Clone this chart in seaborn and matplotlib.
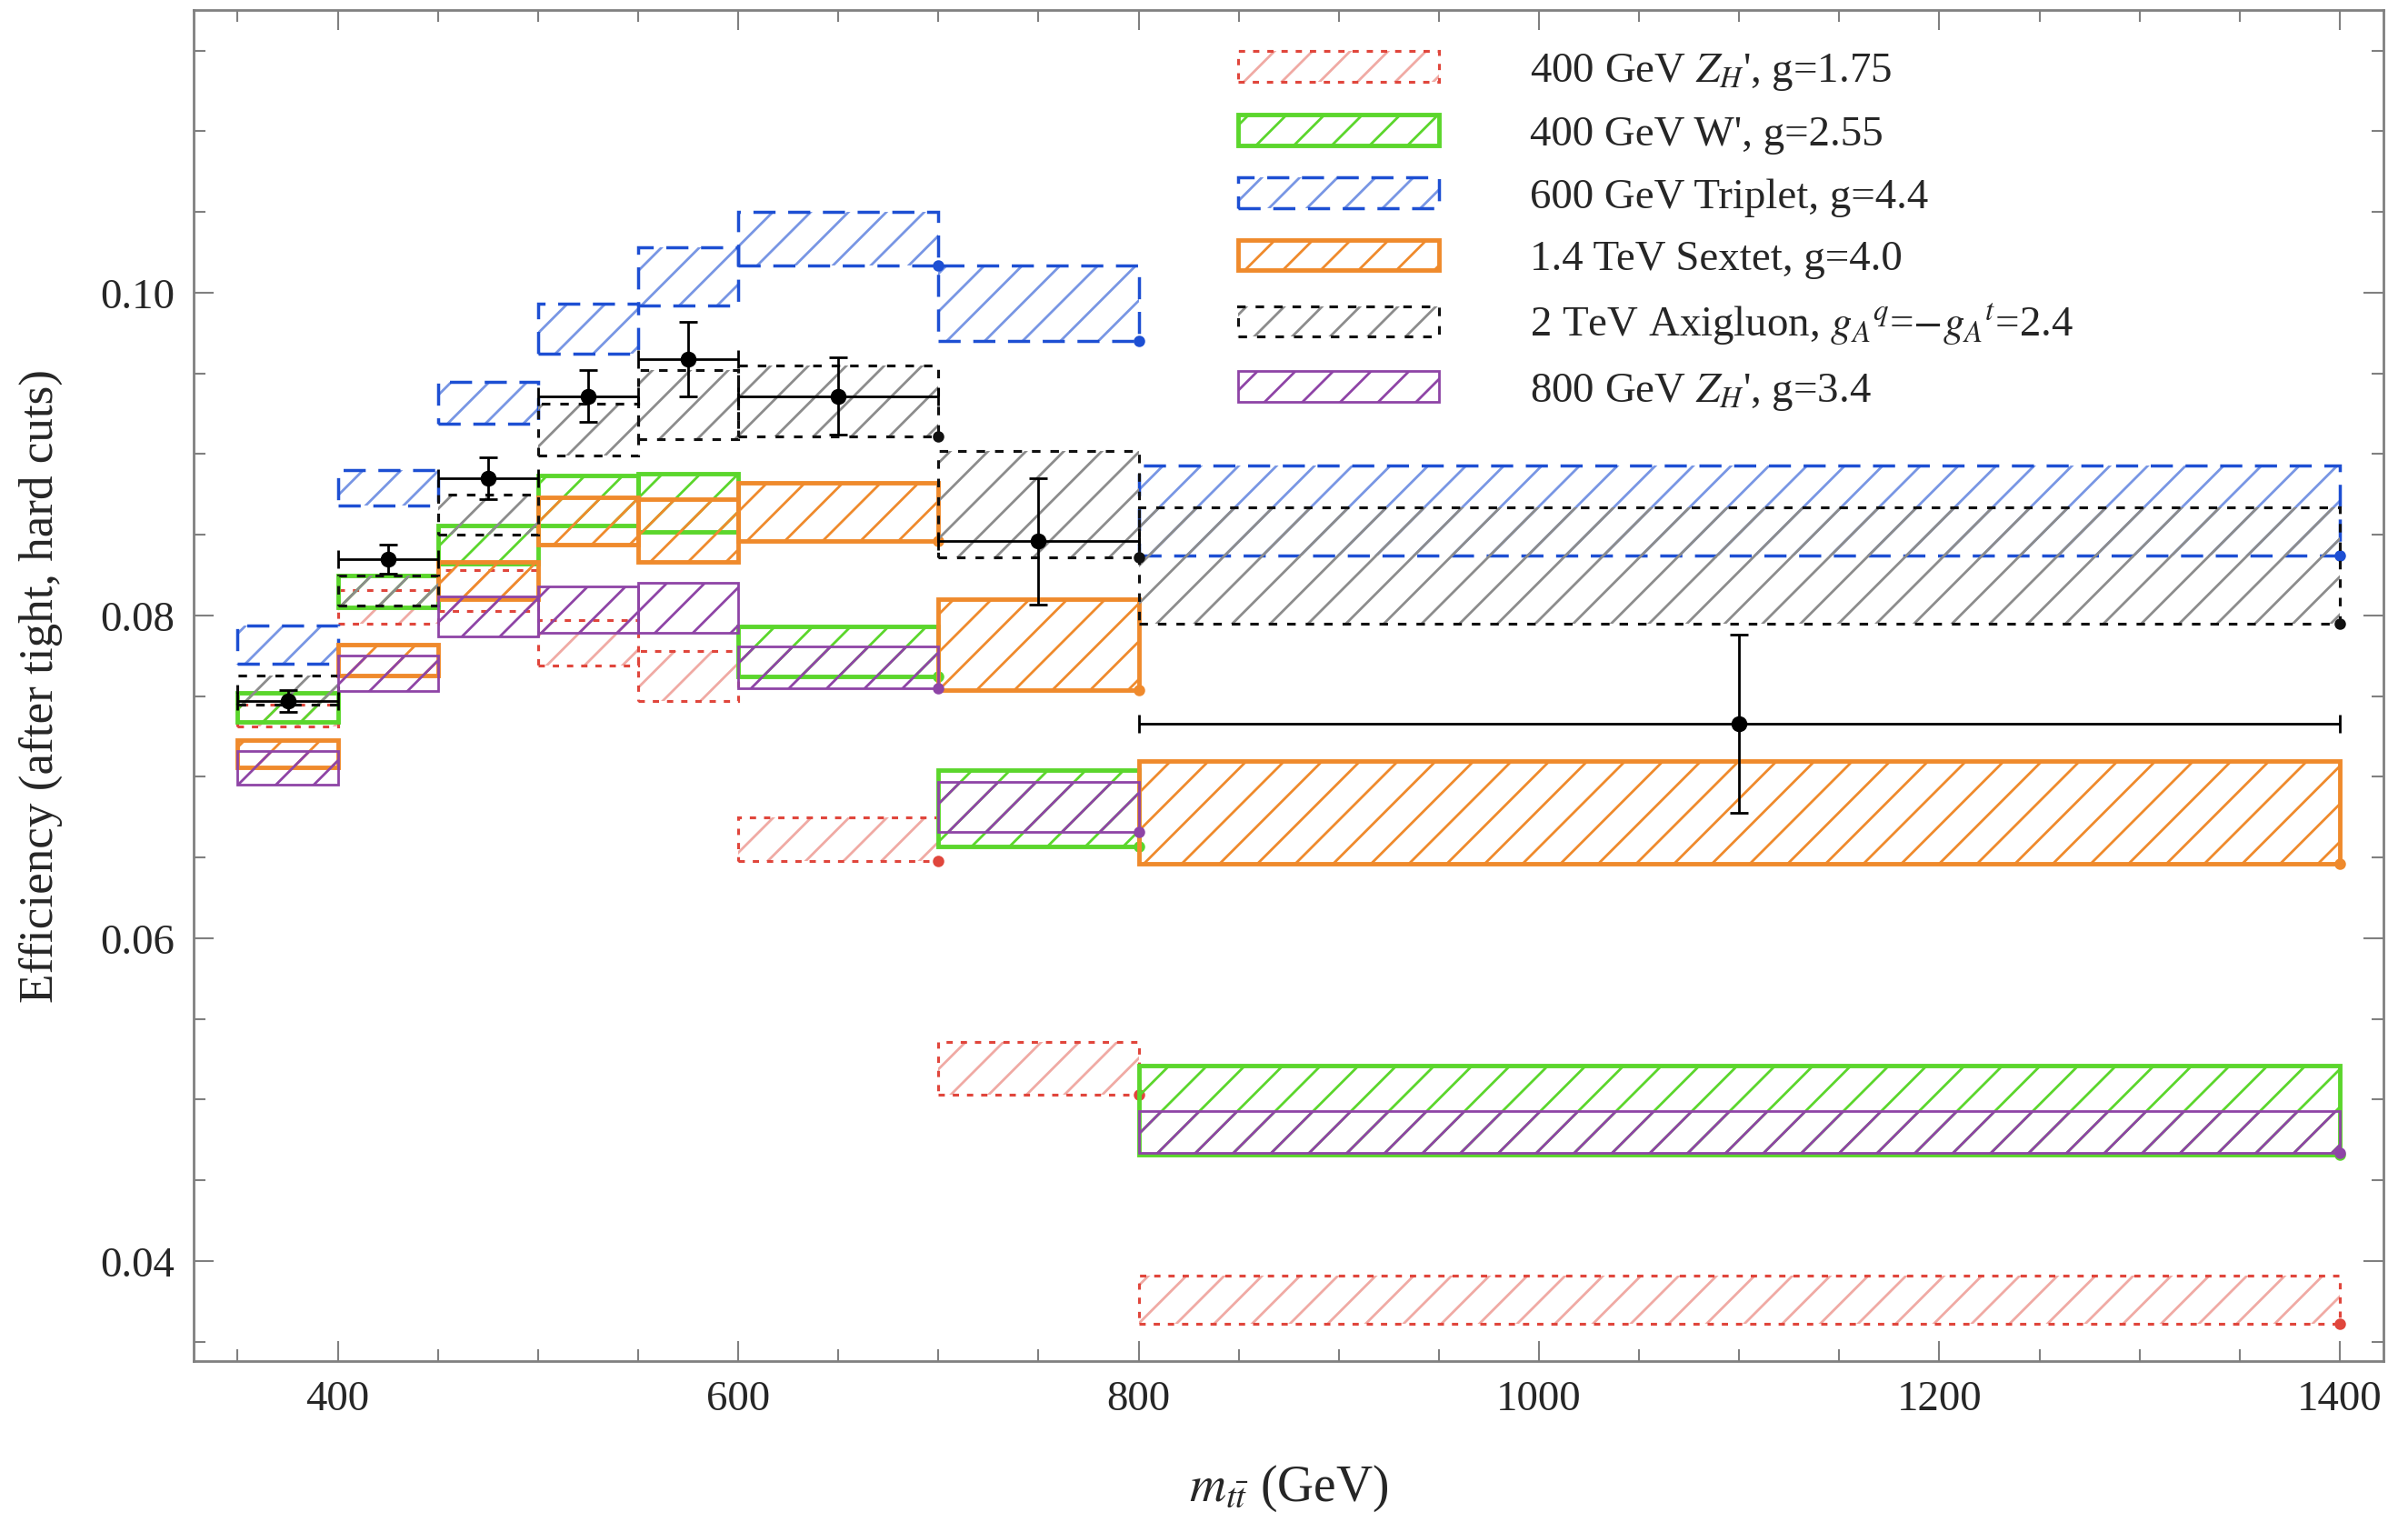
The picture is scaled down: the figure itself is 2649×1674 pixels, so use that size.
import numpy as np
import matplotlib
matplotlib.use("Agg")
import matplotlib.pyplot as plt
import matplotlib.patches as mpatches
from matplotlib.ticker import MultipleLocator
from matplotlib.legend_handler import HandlerTuple
import seaborn as sns

# bin edges in m_tt (GeV)
edges = [350, 400, 450, 500, 550, 600, 700, 800, 1400]

# efficiency bands (upper / lower) per bin
zh400_hi = [0.0745, 0.0816, 0.0828, 0.0797, 0.0778, 0.0675, 0.0536, 0.0391]
zh400_lo = [0.0731, 0.0795, 0.0803, 0.0769, 0.0747, 0.0648, 0.0503, 0.0361]

wp_hi = [0.0752, 0.0825, 0.0856, 0.0887, 0.0888, 0.0793, 0.0704, 0.0521]
wp_lo = [0.0734, 0.0805, 0.0832, 0.0856, 0.0852, 0.0762, 0.0657, 0.0466]

trip_hi = [0.0794, 0.0890, 0.0945, 0.0993, 0.1028, 0.1050, 0.1017, 0.0893]
trip_lo = [0.0770, 0.0868, 0.0919, 0.0962, 0.0992, 0.1017, 0.0970, 0.0837]

sext_hi = [0.0723, 0.0782, 0.0833, 0.0873, 0.0872, 0.0882, 0.0810, 0.0710]
sext_lo = [0.0706, 0.0763, 0.0810, 0.0844, 0.0833, 0.0846, 0.0754, 0.0646]

axi_hi = [0.0763, 0.0825, 0.0875, 0.0931, 0.0952, 0.0955, 0.0902, 0.0867]
axi_lo = [0.0745, 0.0806, 0.0850, 0.0899, 0.0909, 0.0911, 0.0836, 0.0795]

zh800_hi = [0.0716, 0.0775, 0.0812, 0.0818, 0.0820, 0.0781, 0.0697, 0.0493]
zh800_lo = [0.0695, 0.0753, 0.0787, 0.0789, 0.0789, 0.0755, 0.0666, 0.0467]

# standard model points with errors
data_y = [0.0747, 0.0835, 0.0885, 0.0936, 0.0959, 0.0936, 0.0846, 0.0733]
data_err = [0.0007, 0.0009, 0.0013, 0.0016, 0.0023, 0.0024, 0.0039, 0.0055]

labels = ["400 GeV $Z_H$', g=1.75",
          "400 GeV W', g=2.55",
          "600 GeV Triplet, g=4.4",
          "1.4 TeV Sextet, g=4.0",
          "2 TeV Axigluon, $g_A{}^q$=$-g_A{}^t$=2.4",
          "800 GeV $Z_H$', g=3.4"]

sns.set_style("ticks")
plt.rcParams['font.family'] = ['Liberation Serif', 'DejaVu Serif']
plt.rcParams['mathtext.fontset'] = 'stix'
plt.rcParams['hatch.linewidth'] = 0.8

DPI = 250
fig, ax = plt.subplots(figsize=(2649.4 / DPI, 1674.4 / DPI), dpi=DPI)
fig.subplots_adjust(left=0.0804, right=0.9898, bottom=0.1057, top=0.993)

left = np.array(edges[:-1])
width = np.diff(edges)
centers = left + width / 2

# (hi, lo, edge colour, hatch colour, linestyle, linewidth)
series = [
    (zh400_hi, zh400_lo, '#e0463c', '#f0aaa4', (0, (2.2, 2.8)), 0.9),
    (wp_hi, wp_lo, '#5bd62c', '#5bd62c', '-', 1.4),
    (trip_hi, trip_lo, '#1d4fd3', '#7896e4', (0, (7, 4)), 1.0),
    (sext_hi, sext_lo, '#ef8a2c', '#ef8a2c', '-', 1.4),
    (axi_hi, axi_lo, '#111111', '#8c8c8c', (0, (3, 3.5)), 0.9),
    (zh800_hi, zh800_lo, '#8e44a6', '#8e44a6', '-', 0.8),
]

handles = []
for i, (hi, lo, col, hcol, ls, lw) in enumerate(series):
    hi = np.array(hi)
    lo = np.array(lo)
    ax.bar(left, hi - lo, bottom=lo, width=width, align='edge',
           fill=False, edgecolor=hcol, linewidth=0, hatch='//', zorder=2 + i)
    ax.bar(left, hi - lo, bottom=lo, width=width, align='edge',
           fill=False, edgecolor=col, linewidth=lw, linestyle=ls, zorder=2 + i)
    # little end dots at bottom-right corners of the wide bins
    ax.plot(np.array(edges[-3:]), lo[-3:], 'o', color=col, ms=2.6,
            zorder=2 + i, clip_on=False)
    h1 = mpatches.Patch(fill=False, edgecolor=hcol, linewidth=0, hatch='//')
    h2 = mpatches.Patch(fill=False, edgecolor=col, linewidth=lw, linestyle=ls)
    handles.append((h1, h2))

# data points
ax.errorbar(centers, data_y, yerr=data_err, xerr=width / 2, fmt='none',
            ecolor='black', elinewidth=0.8, capsize=3, capthick=0.8, zorder=10)
sns.scatterplot(x=centers, y=data_y, color='black', s=22, edgecolor='black',
                zorder=11, ax=ax, legend=False)

ax.set_xlim(328, 1422)
ax.set_ylim(0.0338, 0.1175)
ax.xaxis.set_major_locator(MultipleLocator(200))
ax.xaxis.set_minor_locator(MultipleLocator(50))
ax.yaxis.set_major_locator(MultipleLocator(0.02))
ax.yaxis.set_minor_locator(MultipleLocator(0.005))
ax.yaxis.set_major_formatter(plt.FuncFormatter(lambda v, p: f"{v:.2f}"))

for sp in ax.spines.values():
    sp.set_color('#808080')
    sp.set_linewidth(0.8)
ax.tick_params(which='both', direction='in', top=True, right=True,
               color='#808080', width=0.6, labelsize=13.5)
ax.tick_params(which='major', length=6.3)
ax.tick_params(which='minor', length=3.7)
ax.tick_params(axis='y', pad=6)
ax.tick_params(axis='x', pad=6)

ax.set_xlabel(r"$m_{t\bar{t}}$ (GeV)", fontsize=16, labelpad=14)
ax.set_ylabel("Efficiency (after tight, hard cuts)", fontsize=15.3, labelpad=12)

ax.legend(handles, labels, handler_map={tuple: HandlerTuple(ndivide=1, pad=0)},
          loc='upper left', bbox_to_anchor=(0.477, 0.970), frameon=False,
          fontsize=13.5, handlelength=4.7, handleheight=0.73, handletextpad=2.15,
          labelspacing=0.54, borderpad=0, borderaxespad=0)

plt.savefig("out.png", dpi=DPI)
